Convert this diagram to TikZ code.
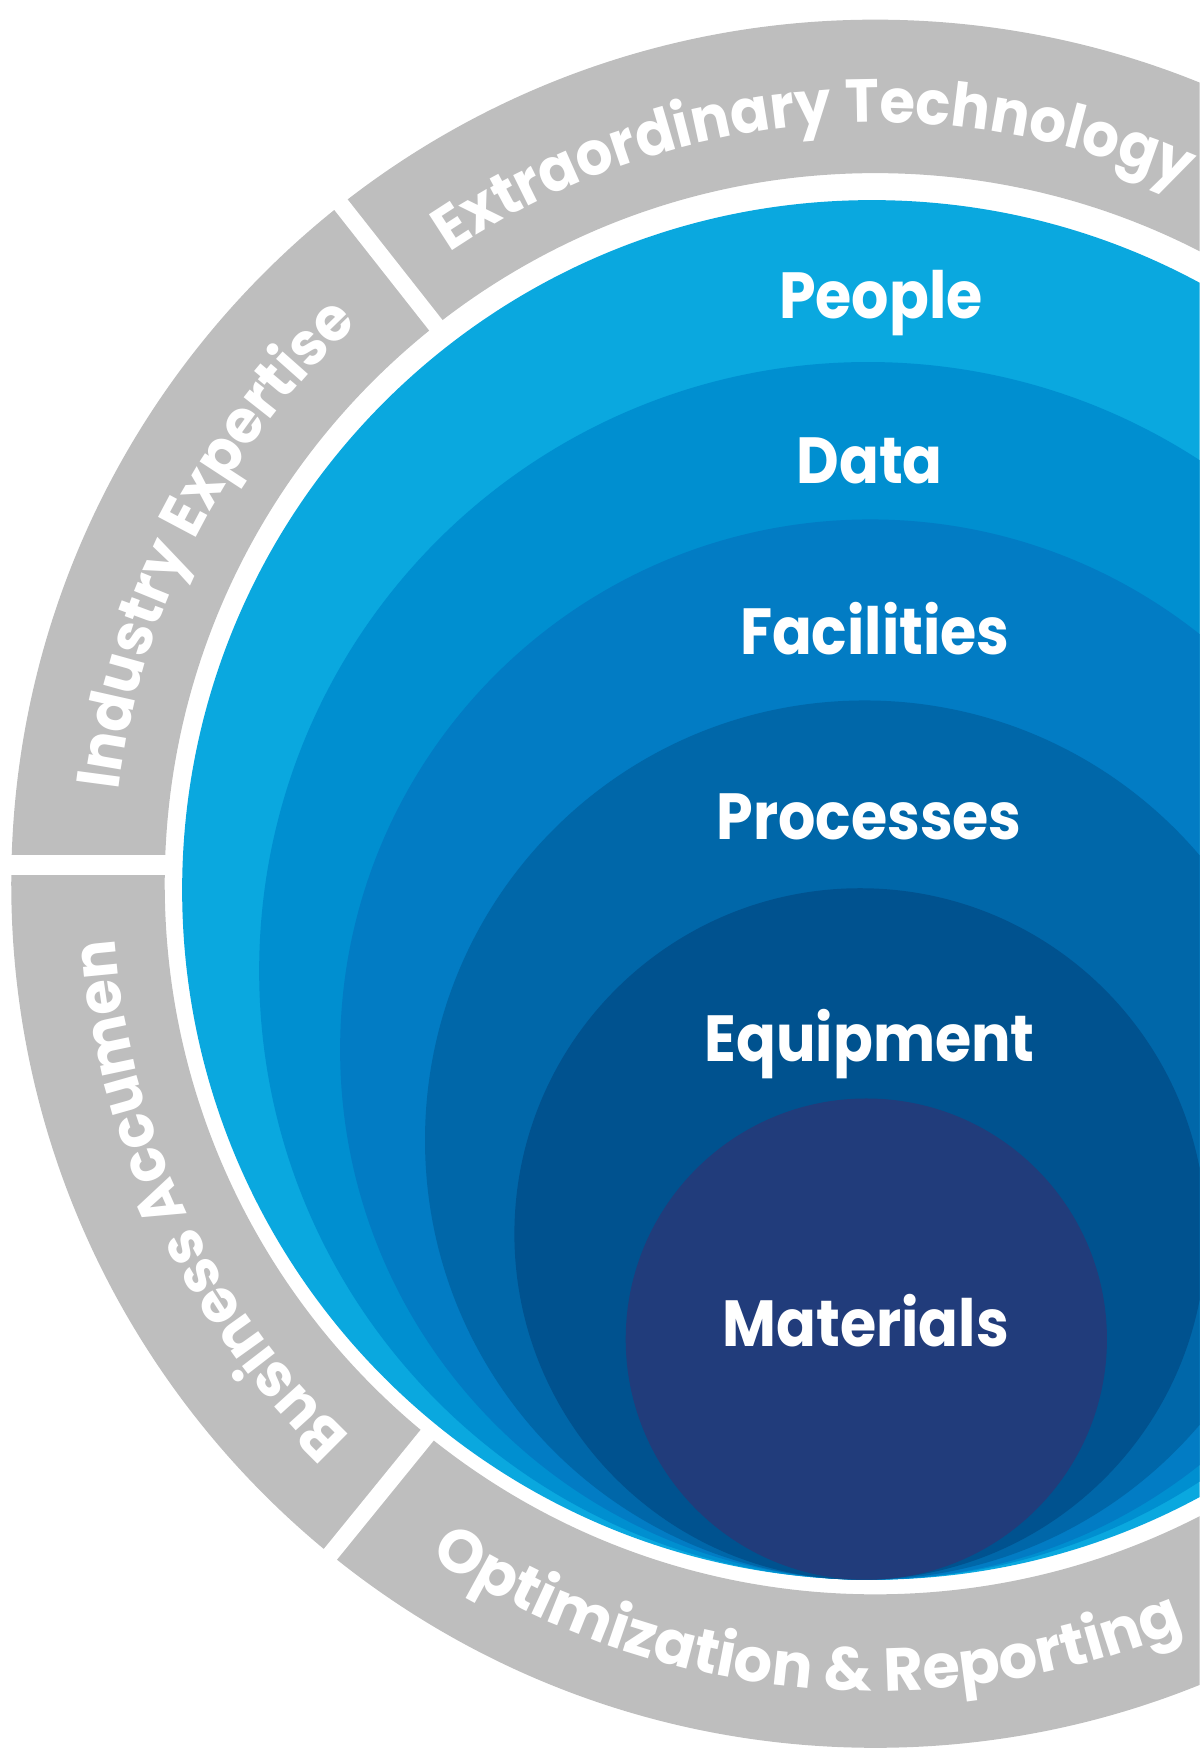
\documentclass[tikz,border=0pt]{standalone}
\usepackage{fontspec}
\setmainfont{Poppins}
\newfontfamily\lblfam{Poppins}[FakeStretch=0.9]
\newfontfamily\ringfam{Poppins}[FakeStretch=0.95]
\usetikzlibrary{decorations.text}
\definecolor{ringgray}{HTML}{BEBEBE}
\definecolor{cPeople}{HTML}{0AA8DF}
\definecolor{cData}{HTML}{008FD0}
\definecolor{cFacilities}{HTML}{027CC4}
\definecolor{cProcesses}{HTML}{0067A9}
\definecolor{cEquipment}{HTML}{00528F}
\definecolor{cMaterials}{HTML}{213C7B}
\newcommand\ringfont{\ringfam\bfseries\fontsize{54}{56}\selectfont}
\newcommand\ringfontb{\bfseries\fontsize{54}{56}\selectfont}
\begin{document}
\begin{tikzpicture}[x=1pt,y=1pt,
  lbl/.style={text=white, font=\lblfam\bfseries\fontsize{58}{60}\selectfont, anchor=base, inner sep=0pt},
  gapline/.style={white, line width=15pt}]
\useasboundingbox (0,0) rectangle (1067,1568);
\clip (0,0) rectangle (1067,1568);
\coordinate (C) at (778.5,782);
% gray ring
\fill[ringgray, even odd rule] (C) circle[radius=768.5] (C) circle[radius=632];
\draw[gapline] (C) ++(128.2:625) -- ++(128.2:170);
\draw[gapline] (C) ++(230.9:625) -- ++(230.9:170);
\fill[white] (0,790) rectangle (155,808);
% ring texts
\path[decorate, decoration={text along path, text color=white,
  text={|\ringfont|Extraordinary Technology}}]
  (C) ++(124:677) arc[start angle=124, end angle=20, radius=677];
\path[decorate, decoration={text along path, text color=white,
  text={|\ringfont|Industry Expertise}}]
  (C) ++(173:678) arc[start angle=173, end angle=100, radius=678];
\path[decorate, decoration={text along path, text color=white,
  text={|\ringfont|Business Accumen}}]
  (C) ++(226.5:678) arc[start angle=226.5, end angle=170, radius=678];
\path[decorate, decoration={text along path, text color=white,
  text={|\ringfontb|Optimization {\&} Reporting}}]
  (C) ++(236.5:718) arc[start angle=236.5, end angle=330, radius=718];
% nested circles
\fill[cPeople] (775.5,776.5) circle[radius=613.5];
\fill[cData] (772,704.5) circle[radius=541.5];
\fill[cFacilities] (774,634.5) circle[radius=471.5];
\fill[cProcesses] (769,554) circle[radius=391];
\fill[cEquipment] (765,470.5) circle[radius=307.5];
\fill[cMaterials] (770.5,377) circle[radius=214];
% labels
\node[lbl] (people) at (783.5,1285) {People};
\node[lbl] (data) at (773.5,1138) {Data};
\node[lbl] (facilities) at (778,986) {Facilities};
\node[lbl] (processes) at (773,821) {Processes};
\node[lbl] (equipment) at (773.5,624) {Equipment};
\node[lbl] (materials) at (770,370) {Materials};
\end{tikzpicture}
\end{document}
